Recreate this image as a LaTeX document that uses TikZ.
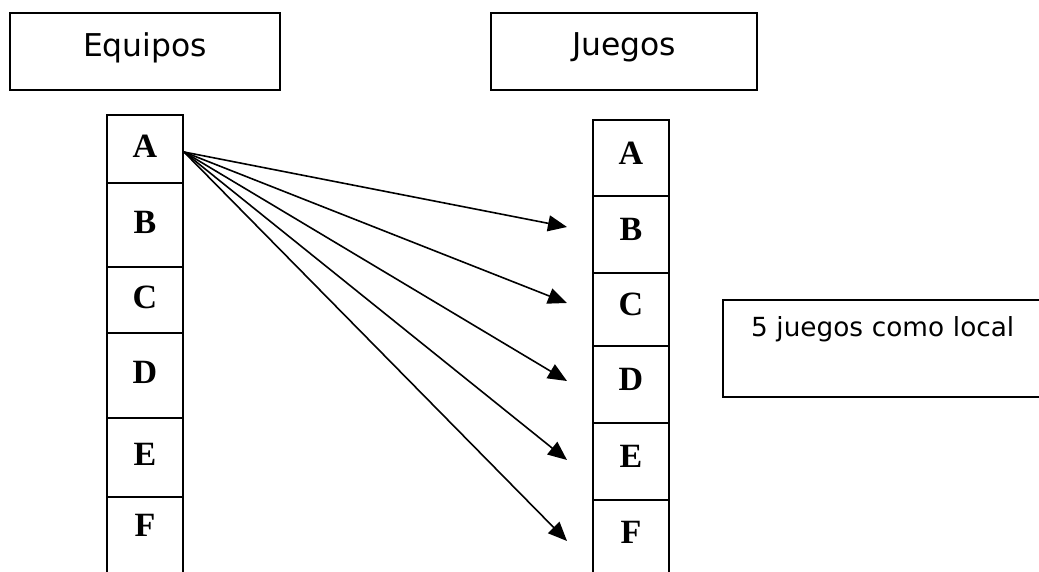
\documentclass[tikz,border=0pt]{standalone}
\usepackage{fontspec}
\setmainfont{DejaVu Sans}
\newfontfamily\cellfont{Liberation Serif}
\usetikzlibrary{arrows.meta}

\tikzset{
	box/.style={draw, line width=2pt, inner sep=0pt},
	cell/.style={draw, line width=2pt, inner sep=0pt, minimum width=76pt,
		font=\cellfont\bfseries\fontsize{34}{40}\selectfont},
	link/.style={line width=1.6pt, -{Triangle[length=19pt,width=16pt]}},
}

\begin{document}
\begin{tikzpicture}[x=1pt,y=-1pt]
			\useasboundingbox (0,0) rectangle (1039,572);
			\clip (0,0) rectangle (1039,572);
			% titles
			\node[box, minimum width=270pt, minimum height=77pt, text depth=14pt,
				font=\fontsize{31.4}{37}\selectfont] (equipos) at (145,51.5) {Equipos};
			\node[box, minimum width=266pt, minimum height=77pt, text depth=14pt,
				font=\fontsize{31.4}{37}\selectfont] (juegos) at (624,51.5) {Juegos};
			% columns
			\foreach \l/\t/\b/\d in {A/115/183/6, B/183/267/6, C/267/333/6, D/333/418/6, E/418/497/6, F/497/590/37}
				\node[cell, minimum height=\b-\t, text depth=\d] (L\l) at (145,{(\t+\b)/2}) {\l};
			\foreach \l/\t/\b/\d in {A/120/196/10, B/196/273/10, C/273/346/10, D/346/423/10, E/423/500/10, F/500/590/26}
				\node[cell, minimum height=\b-\t, text depth=\d] (R\l) at (631,{(\t+\b)/2}) {\l};
			% note
			\node[box, anchor=north west, minimum height=97pt, text width=300pt, align=left,
				inner xsep=28pt, inner ysep=0pt, text height=36pt, text depth=61pt,
				font=\fontsize{26.3}{32}\selectfont] (local) at (722,299) {5 juegos como local};
			% arrows
			\foreach \l/\y in {B/227, C/303, D/381, E/460, F/541} {
				\coordinate (t\l) at (567,\y);
				\draw[link] ([yshift=-3pt]LA.east) -- (t\l);
			}
\end{tikzpicture}
\end{document}
